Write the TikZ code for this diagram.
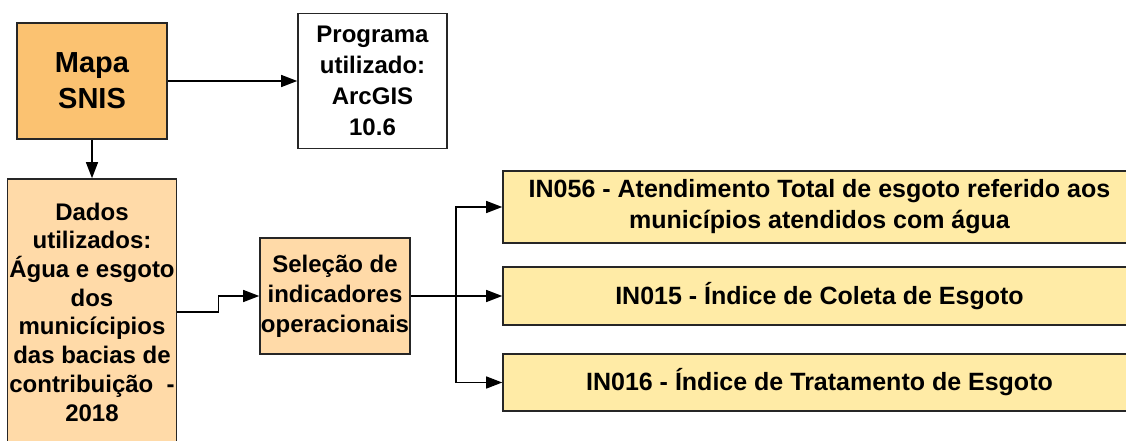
\documentclass[tikz,border=0pt]{standalone}
\usepackage{fontspec}
\setmainfont{Liberation Sans}
\usepackage{tikz}
\usetikzlibrary{positioning, arrows.meta, calc}

\definecolor{snisorange}{HTML}{FBC271}
\definecolor{dadospeach}{HTML}{FFDAA8}
\definecolor{indyellow}{HTML}{FFEBA6}

\begin{document}
\begin{tikzpicture}[
    x=1pt, y=-1pt,
    box/.style={rectangle, draw=black!85, line width=1.6pt, inner sep=0pt, align=center,
                font=\bfseries\fontsize{24}{30}\selectfont},
    indbox/.style={box, fill=indyellow, minimum width=633pt,
                font=\bfseries\fontsize{25}{31}\selectfont},
    arrow/.style={-{Triangle[length=16pt, width=12pt]}, line width=1.3pt}
]

\useasboundingbox (0,0) rectangle (1126,441);
\clip (0,0) rectangle (1126,441);

% Top row
\node[box, fill=snisorange, minimum width=150pt, minimum height=116pt,
      font=\bfseries\fontsize{29}{36}\selectfont] (mapa) at (92,81) {Mapa\\SNIS};
\node[box, fill=white, minimum width=149pt, minimum height=135pt,
      font=\bfseries\fontsize{24}{31}\selectfont] (programa) at (372.5,81) {Programa\\utilizado:\\ArcGIS\\10.6};

% Data and selection
\node[box, fill=dadospeach, minimum width=169pt, minimum height=266pt,
      font=\bfseries\fontsize{24}{28.7}\selectfont] (dados) at (92,312)
      {Dados\\utilizados:\\Água e esgoto\\dos\\municícipios\\das bacias de\\contribuição \ -\\2018};
\node[box, fill=dadospeach, minimum width=150pt, minimum height=116pt] (selecao) at (335,296)
      {Seleção de\\indicadores\\operacionais};

% Indicators
\node[indbox, minimum height=72pt] (in056) at (819.5,207)
      {IN056 - Atendimento Total de esgoto referido aos\\municípios atendidos com água};
\node[indbox, minimum height=58pt] (in015) at (819.5,296) {IN015 - Índice de Coleta de Esgoto};
\node[indbox, minimum height=57pt] (in016) at (819.5,382.5) {IN016 - Índice de Tratamento de Esgoto};

% Connectors
\coordinate (split) at (456,296);
\draw[arrow] (mapa.east) -- (mapa.east -| programa.west);
\draw[arrow] (mapa) -- (dados);
\draw[arrow] (dados.east) -- ++(41.5,0) |- (selecao.west);
\draw[arrow] (selecao.east) -- (in015.west);
\draw[arrow] (split) |- (in056.west);
\draw[arrow] (split) |- (in016.west);

\end{tikzpicture}
\end{document}
